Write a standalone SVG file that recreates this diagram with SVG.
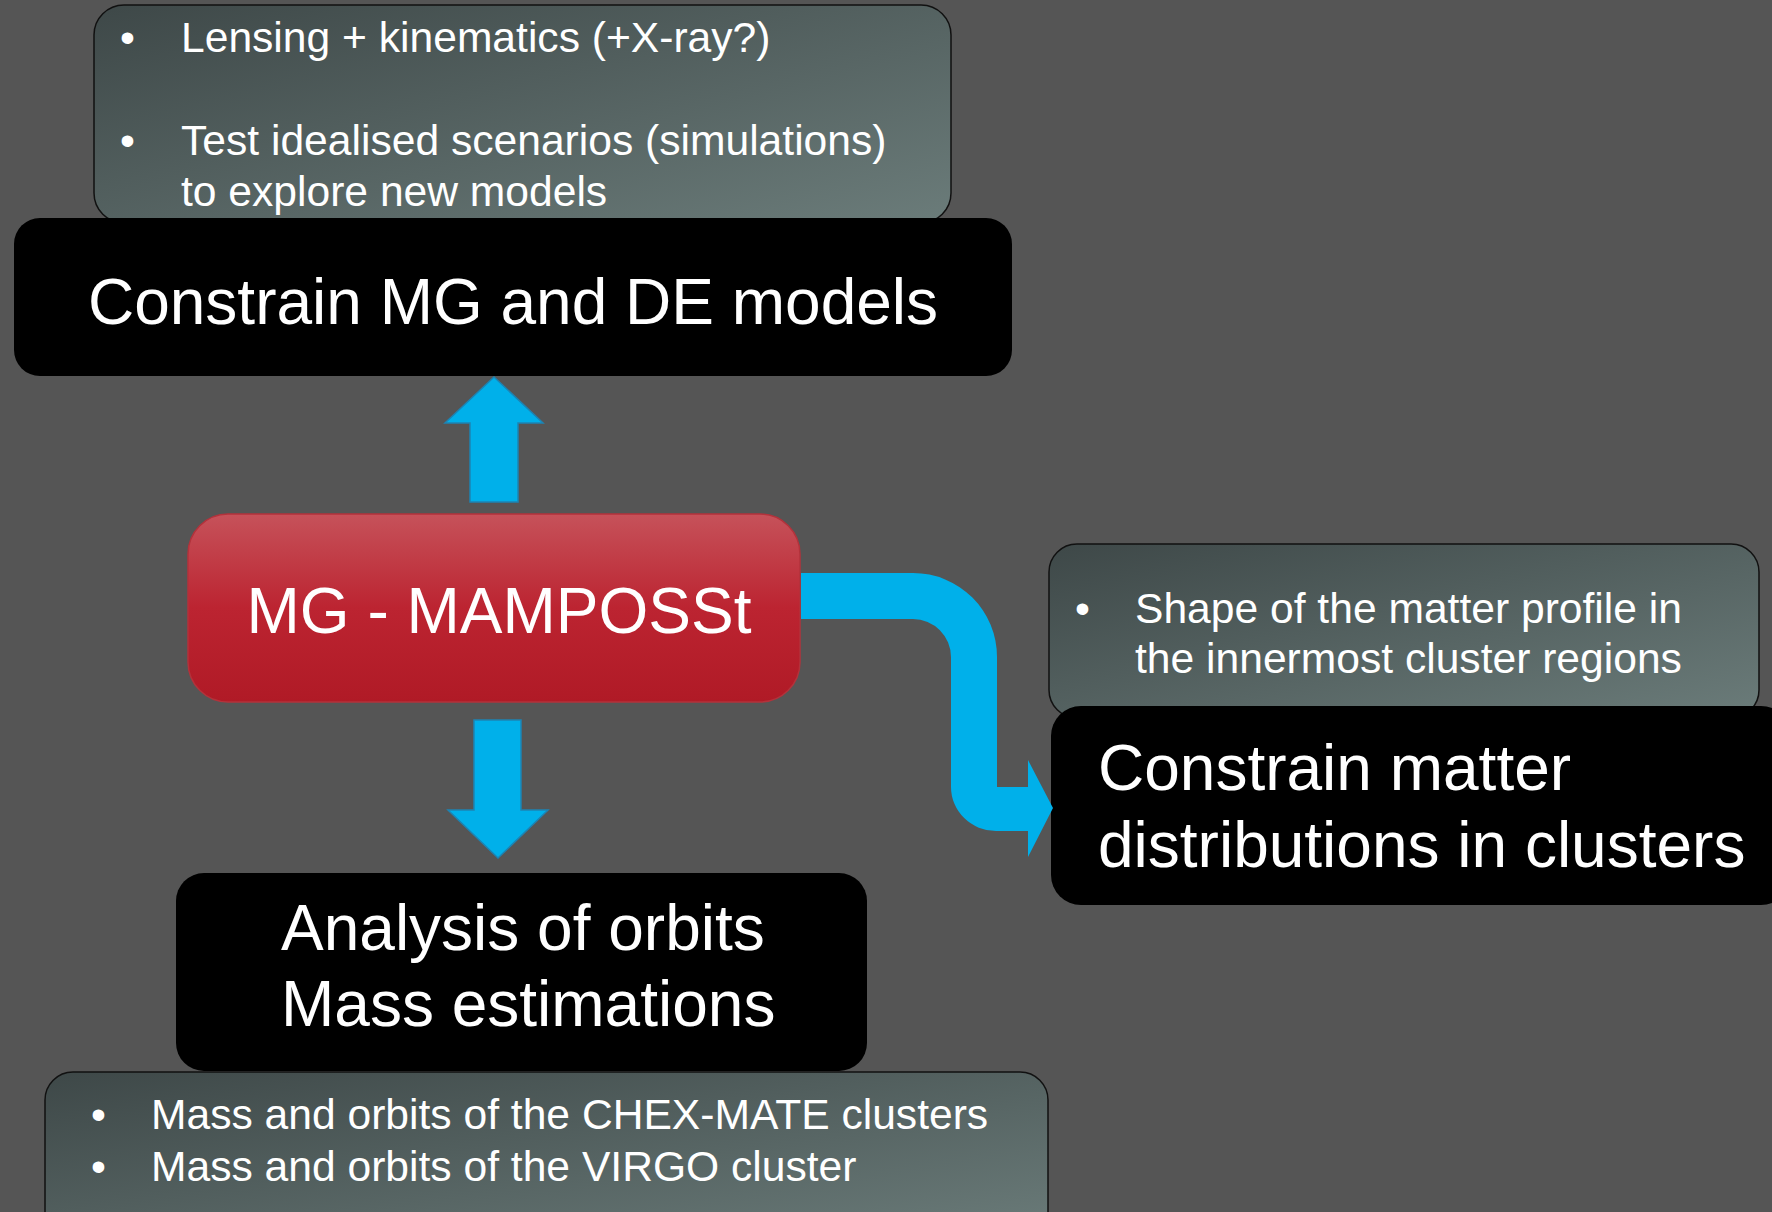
<svg xmlns="http://www.w3.org/2000/svg" width="1772" height="1212" viewBox="0 0 1772 1212">
<defs>
<linearGradient id="gbox" x1="0" y1="0" x2="1" y2="1">
<stop offset="0" stop-color="#3e4848"/>
<stop offset="1" stop-color="#6b7c7a"/>
</linearGradient>
<linearGradient id="rbox" x1="0" y1="0" x2="0" y2="1">
<stop offset="0" stop-color="#c6525a"/>
<stop offset="0.5" stop-color="#bc2431"/>
<stop offset="1" stop-color="#b01a26"/>
</linearGradient>
<style>
.gray{fill:url(#gbox);stroke:#111;stroke-width:1.5}
.black{fill:#000}
.big{font-family:"Liberation Sans",Arial,sans-serif;font-size:64px;fill:#fff}
.small{font-family:"Liberation Sans",Arial,sans-serif;font-size:42.6px;fill:#fff}
.arrow{fill:#00b0ea;stroke:#1c84b4;stroke-width:1.5}
</style>
</defs>
<rect width="1772" height="1212" fill="#555555"/>
<g id="top-notes">
<rect class="gray" x="94" y="5" width="857" height="218" rx="30"/>
<text class="small" x="120" y="52">•</text>
<text class="small" x="181" y="52">Lensing + kinematics (+X-ray?)</text>
<text class="small" x="120" y="155">•</text>
<text class="small" x="181" y="155">Test idealised scenarios (simulations)</text>
<text class="small" x="181" y="206">to explore new models</text>
</g>
<g id="constrain-mg-de">
<rect class="black" x="14" y="218" width="998" height="158" rx="26"/>
<text class="big" x="513" y="324" text-anchor="middle">Constrain MG and DE models</text>
</g>
<g id="mg-mamposst">
<rect x="188" y="514" width="612" height="188" rx="40" fill="url(#rbox)" stroke="#b3323b" stroke-width="1.5"/>
<text class="big" x="499" y="633" text-anchor="middle">MG - MAMPOSSt</text>
</g>
<g id="right-notes">
<rect class="gray" x="1049" y="544" width="710" height="174" rx="28"/>
<text class="small" x="1075" y="623">•</text>
<text class="small" x="1135" y="623">Shape of the matter profile in</text>
<text class="small" x="1135" y="673">the innermost cluster regions</text>
</g>
<g id="constrain-matter">
<rect class="black" x="1051" y="706" width="740" height="199" rx="30"/>
<text class="big" x="1098" y="790">Constrain matter</text>
<text class="big" x="1098" y="867">distributions in clusters</text>
</g>
<g id="bottom-notes">
<rect class="gray" x="45" y="1072" width="1003" height="170" rx="28"/>
<text class="small" x="91" y="1129">•</text>
<text class="small" x="151" y="1129">Mass and orbits of the CHEX-MATE clusters</text>
<text class="small" x="91" y="1181">•</text>
<text class="small" x="151" y="1181">Mass and orbits of the VIRGO cluster</text>
</g>
<g id="analysis">
<rect class="black" x="176" y="873" width="691" height="198" rx="28"/>
<text class="big" x="281" y="950">Analysis of orbits</text>
<text class="big" x="281" y="1026">Mass estimations</text>
</g>
<g id="connectors">
<polygon class="arrow" points="494,377 543,423 518,423 518,502 470,502 470,423 445,423"/>
<polygon class="arrow" points="474,720 521,720 521,810 548,810 498,858 448,810 474,810"/>
<path fill="#00b0ea" d="M801 573 H913 A84 84 0 0 1 997 657 V787 H1028 V760 L1053 808 L1028 857 V831 H996 A45 44 0 0 1 951 787 V657 A38 38 0 0 0 913 619 H801 Z"/>
</g>
</svg>
